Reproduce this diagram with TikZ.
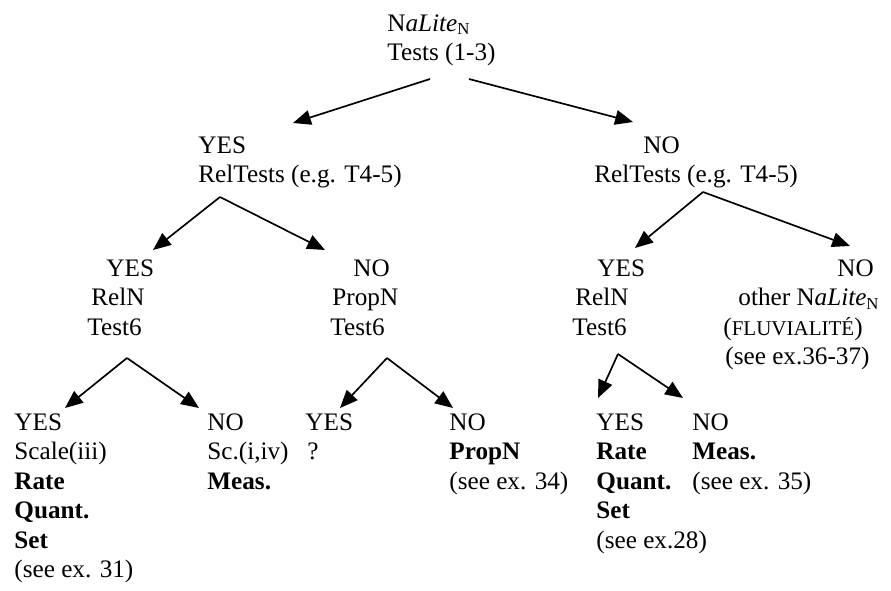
\documentclass[tikz,border=0pt]{standalone}
\usepackage{fontspec}
\setmainfont{Liberation Serif}
\usetikzlibrary{arrows.meta}
\tikzset{
	ln/.style={anchor=base west, inner sep=0pt, font=\fontsize{12}{14}\selectfont},
	arr/.style={-{Triangle[length=8.5pt,width=7pt]}, line width=0.8pt},
}
\newcommand{\nalite}{N\textit{aLite}\textsubscript{N}}
\newcommand{\smc}[1]{{\fontsize{10}{12}\selectfont #1}}

\begin{document}
\begin{tikzpicture}[x=0.4763pt, y=-0.4763pt]
	\useasboundingbox (0,0) rectangle (891,590);

	\node[ln] at (387,31) (nalit) {\nalite};
	\node[ln] at (387,60.5) (testsa) {Tests (1-3)};

	\node[ln] at (198,153) (yesrel) {YES};
	\node[ln] at (198,182.5) (reltesl) {RelTests (e.g. T4-5)};
	\node[ln] at (643,153) (norel) {NO};
	\node[ln] at (594,182.5) (reltesr) {RelTests (e.g. T4-5)};

	\node[ln] at (106,276) (yesreln) {YES};
	\node[ln] at (91,305.5) (relnl) {RelN};
	\node[ln] at (87,335) (testl) {Test6};
	\node[ln] at (353,276) (noprop) {NO};
	\node[ln] at (332,305.5) (propnm) {PropN};
	\node[ln] at (330,335) (testm) {Test6};
	\node[ln] at (597,276) (yesrelr) {YES};
	\node[ln] at (575,305.5) (relnr) {RelN};
	\node[ln] at (572,335) (testr) {Test6};
	\node[ln] at (837,276) (nooth) {NO};
	\node[ln] at (738,305.5) (othern) {other \nalite};
	\node[ln] at (723,335) (fluvia) {(\smc{FLUVIALITÉ})};
	\node[ln] at (725,364.5) (seeexa) {(see ex.36-37)};

	\node[ln] at (14,430) (yessca) {YES};
	\node[ln] at (14,459.5) (scalei) {Scale(iii)};
	\node[ln] at (14,489) (ratel) {\textbf{Rate}};
	\node[ln] at (14,518.5) (quantl) {\textbf{Quant.}};
	\node[ln] at (14,548) (setl) {\textbf{Set}};
	\node[ln] at (14,577.5) (seel) {(see ex. 31)};
	\node[ln] at (207,430) (nosca) {NO};
	\node[ln] at (207,459.5) (scii) {Sc.(i,iv)};
	\node[ln] at (207,489) (measl) {\textbf{Meas.}};
	\node[ln] at (305,430) (yesque) {YES};
	\node[ln] at (307,459.5) (questi) {?};
	\node[ln] at (449,430) (nopro) {NO};
	\node[ln] at (449,459.5) (propnb) {\textbf{PropN}};
	\node[ln] at (449,489) (seem) {(see ex. 34)};
	\node[ln] at (596,430) (yesrat) {YES};
	\node[ln] at (596,459.5) (rater) {\textbf{Rate}};
	\node[ln] at (596,489) (quantr) {\textbf{Quant.}};
	\node[ln] at (596,518.5) (setr) {\textbf{Set}};
	\node[ln] at (596,548) (seer) {(see ex.28)};
	\node[ln] at (692,430) (nomeas) {NO};
	\node[ln] at (692,459.5) (measr) {\textbf{Meas.}};
	\node[ln] at (692,489) (seen) {(see ex. 35)};

	\coordinate (topl) at (430,79);
	\coordinate (topr) at (469,79);
	\coordinate (tipl) at (293,123);
	\coordinate (tipr) at (633,122);
	\draw[arr] (topl) -- (tipl);
	\draw[arr] (topr) -- (tipr);

	\coordinate (apexl) at (220,197);
	\coordinate (apexr) at (703,192);
	\draw[arr] (apexl) -- (153,250);
	\draw[arr] (apexl) -- (325,250);
	\draw[arr] (apexr) -- (635,248);
	\draw[arr] (apexr) -- (850,246);

	\coordinate (apexa) at (127,358);
	\coordinate (apexb) at (387,358);
	\coordinate (apexc) at (618,354);
	\draw[arr] (apexa) -- (65,408);
	\draw[arr] (apexa) -- (199,408);
	\draw[arr] (apexb) -- (340,408);
	\draw[arr] (apexb) -- (453,408);
	\draw[arr] (apexc) -- (598,398);
	\draw[arr] (apexc) -- (683,398);
\end{tikzpicture}
\end{document}
